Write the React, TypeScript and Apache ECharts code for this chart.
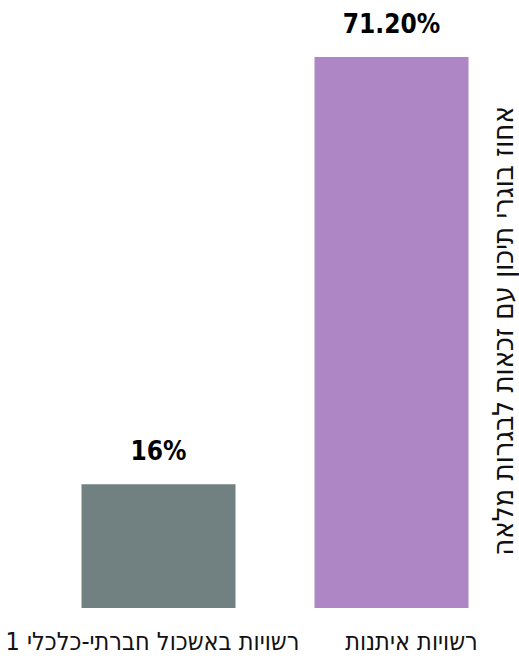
import React, { useEffect, useRef } from "react";
import * as echarts from "echarts";

const categories = ["רשויות איתנות", "רשויות באשכול חברתי-כלכלי 1"];
const values = [71.2, 16];
const valueLabels = ["71.20%", "16%"];
const barColors = ["#AE86C5", "#718080"];
const axisTitle = "אחוז בוגרי תיכון עם זכאות לבגרות מלאה";

const condensed = "'DejaVu Sans Condensed', 'Liberation Sans Narrow', sans-serif";

export default function App() {
  const ref = useRef<HTMLDivElement>(null);
  useEffect(() => {
    if (!ref.current) return;
    const chart = echarts.init(ref.current, undefined, { renderer: "svg" });
    chart.setOption({
      animation: false,
      backgroundColor: "#ffffff",
      grid: { left: 42, right: 11, top: 57, bottom: 54, containLabel: false },
      xAxis: {
        type: "category",
        inverse: true,
        data: categories.map((c, i) => ({
          value: c,
          textStyle: { padding: i === 0 ? [0, 0, 0, 40] : [0, 12, 0, 0] },
        })),
        axisLine: { show: false },
        axisTick: { show: false },
        axisLabel: {
          color: "#111111",
          fontFamily: condensed,
          fontSize: 25,
          margin: 21,
          interval: 0,
        },
      },
      yAxis: {
        type: "value",
        min: 0,
        max: 71.2,
        show: false,
      },
      graphic: [
        {
          type: "text",
          x: 503,
          y: 331,
          rotation: Math.PI / 2,
          style: {
            text: axisTitle,
            fill: "#111111",
            font: "29px 'DejaVu Sans Condensed', 'Liberation Sans Narrow', sans-serif",
            textAlign: "center",
            textVerticalAlign: "middle",
          },
        },
      ],
      series: [
        {
          type: "bar",
          barWidth: 154,
          data: values.map((v, i) => ({ value: v, itemStyle: { color: barColors[i] } })),
          label: {
            show: true,
            position: "top",
            distance: 20,
            color: "#000000",
            fontFamily: condensed,
            fontWeight: "bold",
            fontSize: 26,
            formatter: (p: any) => valueLabels[p.dataIndex],
          },
        },
      ],
    });
    return () => chart.dispose();
  }, []);
  return (
    <div
      ref={ref}
      style={{ position: "fixed", left: 0, top: 0, width: 519, height: 662 }}
    />
  );
}
